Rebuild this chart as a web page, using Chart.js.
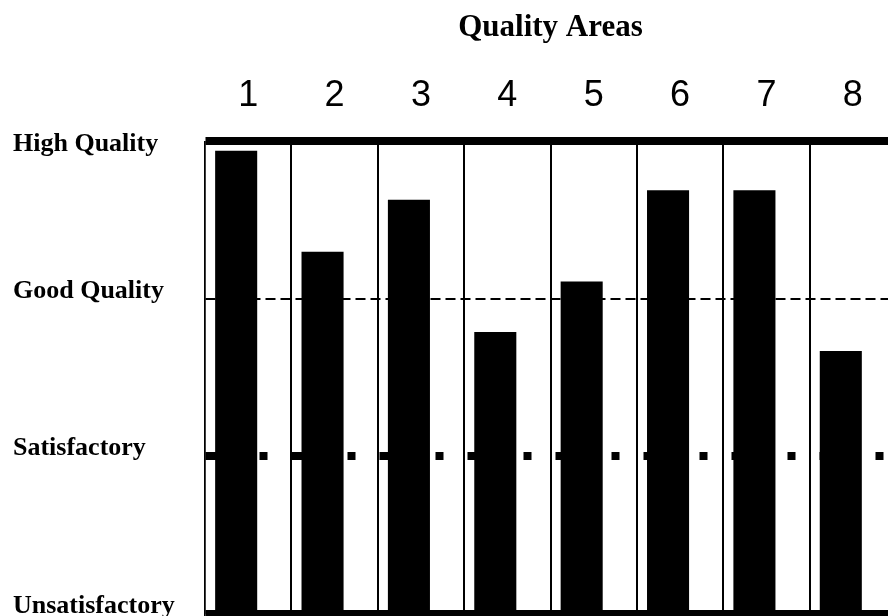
<!DOCTYPE html>
<html>
<head>
<meta charset="utf-8">
<title>Quality Areas</title>
<script src="https://cdn.jsdelivr.net/npm/chart.js@4/dist/chart.umd.min.js"></script>
<style>
    html, body { margin: 0; padding: 0; overflow: hidden; background: #fff; }
    /* the last column runs a little past the right edge in the original */
    #wrap { width: 896px; height: 616px; position: relative; }
</style>
</head>
<body>
<div id="wrap"><canvas id="qualityChart"></canvas></div>
<script>
// quality areas along the top
const areas = ["1", "2", "3", "4", "5", "6", "7", "8"];

// score per area, 0 = Unsatisfactory ... 3 = High Quality
const scores = [2.94, 2.30, 2.63, 1.79, 2.11, 2.69, 2.69, 1.67];

// names of the levels on the left, from bottom to top
const levelLabels = ["Unsatisfactory", "Satisfactory", "Good Quality", "High Quality"];

const serif = "'Liberation Serif', 'Times New Roman', serif";
const sans = "'Liberation Sans', Arial, sans-serif";

// line style of each level across the plot
function levelWidth(value) {
    if (value === 2) return 2;   // good quality: thin dashed
    return 8;                     // top, bottom and satisfactory are heavy
}

function levelDash(value) {
    if (value === 2) return [10, 5];
    if (value === 1) return [40, 16, 8, 24]; // long dash + square dot
    return [];
}

document.addEventListener("DOMContentLoaded", function () {
    const ctx = document.getElementById("qualityChart").getContext("2d");

    new Chart(ctx, {
        type: "bar",
        data: {
            labels: areas,
            datasets: [
                {
                    label: "Score",
                    data: scores,
                    backgroundColor: "#000",
                    borderWidth: 0,
                },
                {
                    // empty second group, only here so the bars sit left of centre
                    label: "",
                    data: [],
                    backgroundColor: "#000",
                },
            ],
        },
        options: {
            responsive: true,
            maintainAspectRatio: false,
            animation: false,
            categoryPercentage: 0.5565,
            barPercentage: 1.75,
            layout: {
                padding: { left: 13, right: 0, top: 0, bottom: 2 },
            },
            scales: {
                x: {
                    position: "top",
                    grid: {
                        color: "#000",
                        lineWidth: (c) => (c.index === 0 ? 1.5 : 2),
                        drawTicks: false,
                    },
                    border: { display: false },
                    ticks: {
                        color: "#000",
                        font: { family: sans, size: 36 },
                        padding: 24,
                        maxRotation: 0,
                        autoSkip: false,
                    },
                    title: {
                        display: true,
                        text: "Quality Areas",
                        color: "#000",
                        font: { family: serif, size: 31, weight: "bold" },
                        padding: { top: 9, bottom: 4 },
                    },
                },
                y: {
                    min: 0,
                    max: 3,
                    afterFit: (scale) => {
                        scale.width = 192;
                        // labels may hang over the plot edges, no extra room
                        scale.paddingTop = 0;
                        scale.paddingBottom = 0;
                    },
                    grid: {
                        color: "#000",
                        lineWidth: (c) => (c.tick ? levelWidth(c.tick.value) : 0),
                        drawTicks: false,
                    },
                    border: {
                        display: true,
                        color: "#000",
                        width: 1.5,
                        dash: (c) => (c.tick ? levelDash(c.tick.value) : []),
                        dashOffset: (c) => (c.tick && c.tick.value === 1 ? 2 : 0),
                    },
                    ticks: {
                        stepSize: 1,
                        color: "#000",
                        crossAlign: "far",
                        labelOffset: -8,
                        // top label sits level with the heavy line, not above it
                        font: (c) => ({
                            family: serif,
                            size: 26,
                            weight: "bold",
                            lineHeight: c.tick && c.tick.value === 3 ? 0.8 : 1.2,
                        }),
                        callback: (value) =>
                            value === 3 ? ["", levelLabels[value]] : levelLabels[value],
                    },
                },
            },
            plugins: {
                legend: { display: false },
                tooltip: { enabled: false },
            },
        },
    });
});
</script>
</body>
</html>
